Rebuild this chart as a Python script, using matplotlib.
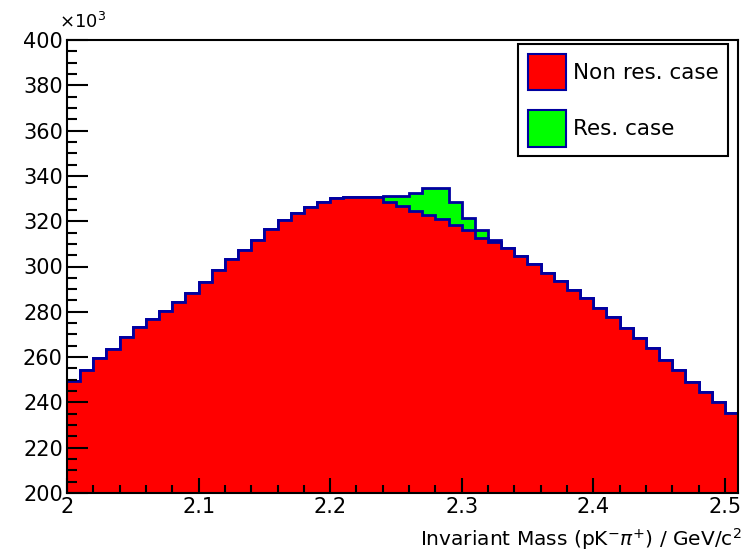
import numpy as np
import matplotlib
matplotlib.use("Agg")
import matplotlib.pyplot as plt
from matplotlib.patches import Patch
from matplotlib.ticker import MultipleLocator, FuncFormatter

# histogram binning (GeV/c^2)
x_lo = 2.0
x_hi = 2.51
n_bins = 51

# non resonant case, counts in units of 10^3
nonres = [249.4, 254.3, 259.7, 263.6, 268.7, 273.4, 276.7, 280.4, 284.5, 288.4,
          293.3, 298.3, 303.2, 307.3, 311.7, 316.4, 320.5, 323.6, 326.3, 328.5,
          330.3, 330.8, 330.8, 330.6, 328.3, 326.5, 324.5, 322.7, 321.0, 318.5,
          316.0, 312.8, 311.0, 308.2, 304.6, 301.0, 297.3, 293.6, 289.6, 286.0,
          281.5, 277.6, 272.8, 268.3, 263.9, 258.7, 254.3, 249.1, 244.7, 240.3,
          235.5]

# resonant contribution on top of it (10^3)
res = [0] * 24 + [2.7, 4.7, 7.8, 11.8, 13.5, 10.1, 5.4, 3.4, 0.8] + [0] * 18

labels = ["Non res. case", "Res. case"]
xlabel = r"Invariant Mass (pK$^{-}\pi^{+}$) / GeV/c$^{2}$"

red = "#ff0000"
green = "#00ff00"
blue = "#0000a0"

plt.rcParams['font.family'] = ['DejaVu Sans']

edges = np.linspace(x_lo, x_hi, n_bins + 1)
nonres = np.array(nonres)
total = nonres + np.array(res)

fig = plt.figure(figsize=(7.52, 5.51), dpi=100)
ax = fig.add_axes([67/752, 58/551, 671/752, 453/551])

# total (res. case) first, then non res. on top, like ROOT "same"
ax.stairs(total, edges, baseline=0, fill=True, color=green, lw=0)
ax.stairs(total, edges, baseline=None, color=blue, lw=2)
ax.stairs(nonres, edges, baseline=0, fill=True, color=red, lw=0)
ax.stairs(nonres, edges, baseline=None, color=blue, lw=2)

ax.set_xlim(x_lo, x_hi)
ax.set_ylim(200, 400)

ax.xaxis.set_major_locator(MultipleLocator(0.1))
ax.xaxis.set_minor_locator(MultipleLocator(0.02))
ax.yaxis.set_major_locator(MultipleLocator(20))
ax.yaxis.set_minor_locator(MultipleLocator(5))
ax.xaxis.set_major_formatter(FuncFormatter(lambda v, p: "%g" % round(v, 2)))
ax.yaxis.set_major_formatter(FuncFormatter(lambda v, p: "%d" % v))

ax.tick_params(which='both', direction='in', top=False, right=False,
               width=1.5, labelsize=15, colors='black')
ax.tick_params(axis='y', which='major', length=15, pad=3)
ax.tick_params(axis='y', which='minor', length=7.5)
ax.tick_params(axis='x', which='major', length=11, pad=3)
ax.tick_params(axis='x', which='minor', length=5.5)
for s in ax.spines.values():
    s.set_linewidth(1.5)

ax.set_xlabel(xlabel, fontsize=14.5, ha='right')
ax.xaxis.set_label_coords(1.006, -0.074)

ax.text(-0.012, 1.018, r"$\times$10$^{3}$", transform=ax.transAxes,
        fontsize=13, ha='left', va='bottom')

handles = [Patch(facecolor=red, edgecolor=blue, lw=1.5),
           Patch(facecolor=green, edgecolor=blue, lw=1.5)]
leg = ax.legend(handles, labels, loc='upper left',
                bbox_to_anchor=(518/752, 1 - 44/551), bbox_transform=fig.transFigure,
                fontsize=15.5, handlelength=1.8, handleheight=2.25, labelspacing=0.9,
                handletextpad=0.3, borderpad=0.45, borderaxespad=0,
                fancybox=False, framealpha=1)
leg.get_frame().set_edgecolor('black')
leg.get_frame().set_linewidth(1.5)

fig.savefig("out.png", dpi=100)
